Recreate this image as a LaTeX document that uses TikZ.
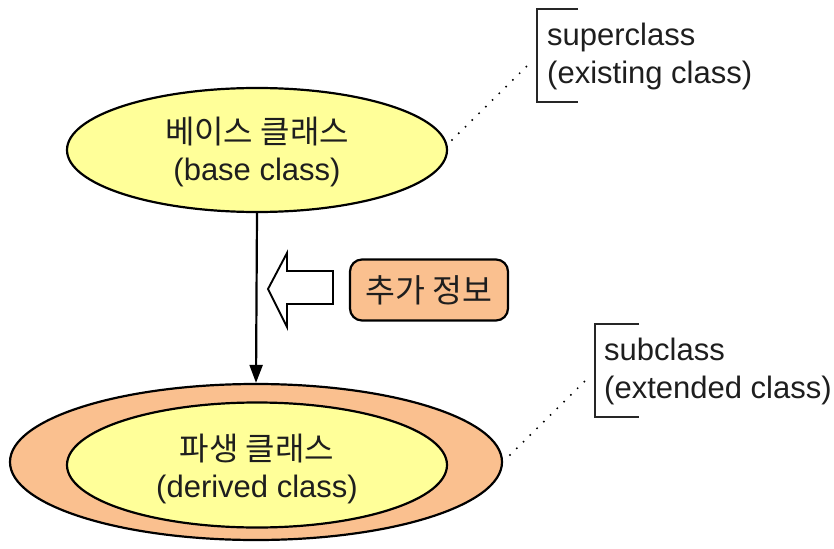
\documentclass[tikz,border=0pt]{standalone}
\usepackage{fontspec}
\setmainfont{Liberation Sans}
\newfontfamily\kr{Noto Sans CJK KR}
\usetikzlibrary{arrows.meta,shapes.geometric}
\definecolor{paleyellow}{RGB}{255,255,153}
\definecolor{paleorange}{RGB}{250,192,143}
\definecolor{inktext}{RGB}{30,30,30}
\tikzset{
  classell/.style={ellipse, draw=black, line width=2.2pt, inner sep=0pt},
  lbl/.style={font=\fontsize{31}{37}\selectfont, text=inktext, align=center},
  krtext/.style={},
  bracketlbl/.style={font=\fontsize{31}{38}\selectfont, text=inktext, align=left, anchor=west, inner sep=0pt},
  bracketline/.style={line width=2.4pt, draw=black!85},
  leader/.style={line width=2.2pt, dash pattern=on 0pt off 9.5pt, line cap=round},
}
\begin{document}
\begin{tikzpicture}[x=1pt, y=-1pt]
  \useasboundingbox (0,0) rectangle (834,548);

  % base class
  \node[classell, fill=paleyellow, minimum width=380pt, minimum height=124pt] (base) at (257,150) {};
  \node[lbl] (basetxt) at (257,152) {{\kr\fontsize{32}{37}\selectfont 베이스 클래스}\\(base class)};

  % derived class: outer ring and inner ellipse
  \node[classell, fill=paleorange, minimum width=492pt, minimum height=156pt] (outer) at (256,462) {};
  \node[classell, fill=paleyellow, minimum width=380pt, minimum height=125pt] (inner) at (257,465) {};
  \node[lbl] (derivedtxt) at (257,469) {{\kr\fontsize{32}{37}\selectfont 파생 클래스}\\(derived class)};

  % inheritance arrow
  \draw[line width=2.2pt, -{Triangle[length=18pt,width=13pt]}] (base.south) -- (outer.north);

  % block arrow pointing at the inheritance line
  \draw[line width=1.9pt, fill=white, line join=miter]
    (268,289) -- (287,253) -- (287,271) -- (333,271) -- (333,304) -- (287,304) -- (287,327) -- cycle;

  % additional information box
  \node[draw=black, line width=2.2pt, fill=paleorange, rounded corners=12pt,
        minimum width=158pt, minimum height=61pt, inner sep=0pt] (extra) at (429,290)
        {\kr\fontsize{32.5}{35}\selectfont\color{inktext} 추가 정보};

  % superclass annotation
  \draw[bracketline] (578,9) -- (537,9) -- (537,102) -- (578,102);
  \node[bracketlbl] (suplbl) at (547,56) {superclass\\(existing class)};
  \coordinate (supend) at (530,63);
  \coordinate (basept) at (452,140);
  \draw[leader] (basept) -- (supend);

  % subclass annotation
  \draw[bracketline] (639,324) -- (595,324) -- (595,417) -- (639,417);
  \node[bracketlbl] (sublbl) at (604,371) {subclass\\(extended class)};
  \coordinate (subend) at (587,379);
  \coordinate (outerpt) at (510,455);
  \draw[leader] (outerpt) -- (subend);
\end{tikzpicture}
\end{document}
